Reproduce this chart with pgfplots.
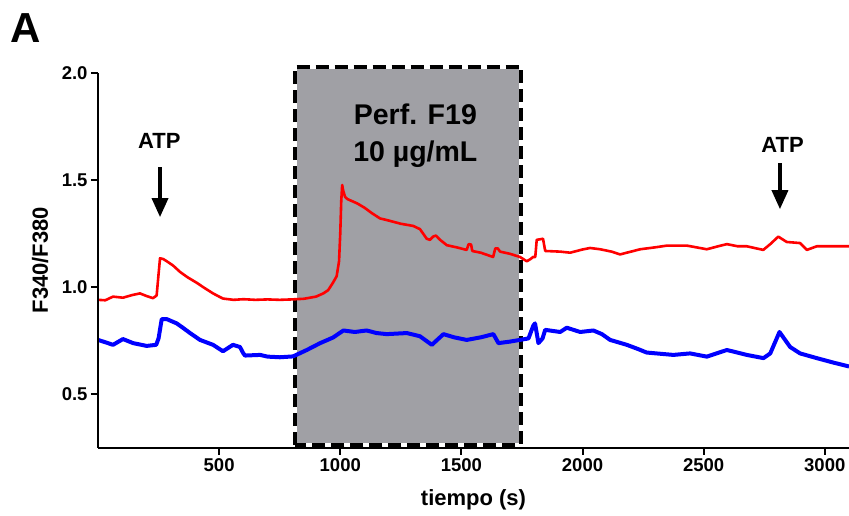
\documentclass[border=0pt]{standalone}
\usepackage{fontspec}
\setmainfont{Liberation Sans}
\usepackage{pgfplots}
\pgfplotsset{compat=1.18}
\usetikzlibrary{arrows.meta}
\definecolor{boxgray}{RGB}{160,160,165}
\begin{document}
\begin{tikzpicture}
\path[use as bounding box] (0,0) rectangle (849bp,516bp);
\node[font=\bfseries\fontsize{42bp}{46bp}\selectfont] at (25.7bp,487.7bp) {A};
\begin{axis}[
  at={(98bp,68.3bp)}, anchor=south west,
  scale only axis, width=751bp, height=375bp,
  xmin=0, xmax=3100, ymin=0.25, ymax=2.0,
  clip=false,
  axis on top,
  axis x line*=bottom, axis y line*=left,
  axis line style={-, line width=2bp},
  xtick={500,1000,...,3000}, ytick={0.5,1,1.5,2},
  tick align=outside, major tick length=7bp,
  tick style={line width=2bp, black},
  scaled ticks=false,
  /pgf/number format/assume math mode=true,
  ticklabel style={font=\bfseries\fontsize{18.5bp}{20bp}\selectfont},
  xticklabel style={/pgf/number format/1000 sep={}},
  yticklabel style={/pgf/number format/fixed, /pgf/number format/fixed zerofill, /pgf/number format/precision=1},
  xlabel={tiempo (s)}, ylabel={F340/F380},
  label style={font=\bfseries\fontsize{22bp}{24bp}\selectfont},
  xlabel style={at={(rel axis cs:0.5,-0.1395)}, anchor=center},
  ylabel style={at={(rel axis cs:-0.0772,0.5)}, anchor=center},
]
\fill[boxgray] (axis cs:813,0.256) rectangle (axis cs:1745,2.028);
\draw[white, line width=4bp] (axis cs:813,0.262) rectangle (axis cs:1745,2.028);
\draw[black, line width=4bp, dash pattern=on 13bp off 6bp] (axis cs:813,0.262) rectangle (axis cs:1745,2.028);

\addplot[red, line width=2.6bp, line join=round] coordinates {
(0,0.94) (30,0.938) (62,0.955) (103,0.95) (140,0.962) (173,0.97) (200,0.958) (227,0.948)
(242,0.96) (250,1.06) (256,1.134) (270,1.13) (284,1.12) (310,1.10) (339,1.07) (370,1.045)
(407,1.02) (440,0.995) (475,0.97) (500,0.955) (516,0.946) (560,0.94) (600,0.943) (650,0.94)
(700,0.942) (750,0.94) (800,0.942) (850,0.945) (900,0.955) (930,0.97) (950,0.985) (970,1.02)
(985,1.05) (995,1.12) (1000,1.25) (1004,1.40) (1008,1.476) (1012,1.45) (1020,1.42) (1030,1.41)
(1050,1.40) (1070,1.39) (1100,1.37) (1130,1.345) (1164,1.32) (1200,1.31) (1250,1.295) (1301,1.285)
(1329,1.27) (1357,1.225) (1370,1.22) (1383,1.235) (1395,1.24) (1412,1.22) (1440,1.195) (1480,1.185)
(1522,1.173) (1530,1.20) (1540,1.198) (1545,1.168) (1580,1.16) (1631,1.14) (1640,1.18) (1650,1.18)
(1660,1.165) (1700,1.155) (1742,1.14) (1770,1.12) (1785,1.13) (1796,1.14) (1805,1.14) (1811,1.22)
(1837,1.225) (1846,1.168) (1908,1.165) (1949,1.16) (2000,1.175) (2031,1.182) (2073,1.176) (2120,1.165)
(2155,1.152) (2200,1.165) (2238,1.176) (2300,1.185) (2348,1.193) (2431,1.193) (2470,1.185) (2513,1.176)
(2560,1.19) (2596,1.20) (2640,1.19) (2678,1.19) (2746,1.173) (2775,1.20) (2808,1.235) (2843,1.21)
(2898,1.205) (2926,1.173) (2967,1.19) (3035,1.19) (3100,1.19)
};
\addplot[blue, line width=4bp, line join=round] coordinates {
(0,0.753) (36,0.74) (62,0.73) (103,0.757) (145,0.738) (201,0.725) (240,0.73) (250,0.76)
(263,0.85) (284,0.85) (325,0.83) (350,0.81) (380,0.785) (421,0.753) (475,0.73) (516,0.70)
(557,0.73) (586,0.72) (600,0.69) (607,0.68) (669,0.683) (700,0.675) (751,0.672) (805,0.676)
(862,0.706) (917,0.738) (970,0.764) (1013,0.797) (1060,0.79) (1109,0.797) (1150,0.785) (1192,0.78)
(1275,0.785) (1329,0.77) (1378,0.73) (1426,0.78) (1470,0.765) (1522,0.753) (1580,0.765) (1632,0.78)
(1653,0.738) (1700,0.745) (1742,0.753) (1777,0.76) (1797,0.82) (1804,0.83) (1818,0.738) (1835,0.76)
(1846,0.80) (1908,0.79) (1935,0.81) (1990,0.79) (2045,0.797) (2080,0.78) (2114,0.753) (2183,0.73)
(2230,0.71) (2265,0.694) (2375,0.683) (2444,0.69) (2513,0.675) (2596,0.706) (2678,0.683) (2747,0.668)
(2775,0.69) (2813,0.79) (2857,0.72) (2898,0.69) (2967,0.668) (3036,0.647) (3100,0.629)
};

\node[anchor=base, font=\bfseries\fontsize{22bp}{24bp}\selectfont] at (axis cs:253,1.647) {ATP};
\draw[-{Triangle[length=19bp,width=16bp]}, line width=3.5bp] (axis cs:256,1.559) -- (axis cs:256,1.326);
\node[anchor=base, font=\bfseries\fontsize{22bp}{24bp}\selectfont] at (axis cs:2826,1.627) {ATP};
\draw[-{Triangle[length=19bp,width=16bp]}, line width=3.5bp] (axis cs:2815,1.577) -- (axis cs:2815,1.363);

\node[anchor=base, font=\bfseries\fontsize{28.5bp}{31bp}\selectfont] at (axis cs:1310,1.756) {Perf. F19};
\node[anchor=base, font=\bfseries\fontsize{28.5bp}{31bp}\selectfont] at (axis cs:1310,1.585) {10 µg/mL};
\end{axis}
\end{tikzpicture}
\end{document}
